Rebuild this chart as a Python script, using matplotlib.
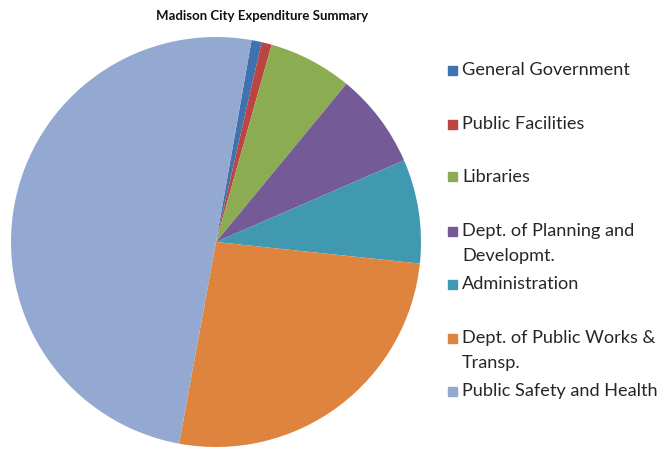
import matplotlib.pyplot as plt
from matplotlib.patches import Rectangle

departments = ['General Government', 'Public Facilities', 'Libraries',
               'Dept. of Planning and\nDevelopmt.', 'Administration',
               'Dept. of Public Works &\nTransp.', 'Public Safety and Health']
shares = [0.8, 0.8, 6.6, 7.5, 8.2, 26.2, 49.9]
colors = ['#3F72AF', '#BB4542', '#8CAC52', '#745A96', '#4199B1', '#DE843E', '#93A9D1']

W, H = 658, 449
fig = plt.figure(figsize=(W / 100, H / 100), dpi=100)

# pie centred at (216, 242) px, radius 205 px
cx, cy, r = 216, 242, 205
ax = fig.add_axes([(cx - r) / W, (H - cy - r) / H, 2 * r / W, 2 * r / H])
ax.pie(shares, colors=colors, startangle=80, counterclock=False,
       wedgeprops=dict(linewidth=0))
ax.set_xlim(-1, 1)
ax.set_ylim(-1, 1)
ax.axis('off')

fig.text(262 / W, 1 - 16 / H, 'Madison City Expenditure Summary',
         ha='center', va='center', fontsize=9.5, fontweight='bold',
         family='Lato', color='#111111')

# legend entries, marker aligned with the first line of each label
legend_y = [70, 124, 177, 231, 284, 338, 391]
line_gap = 25
for lab, col, y in zip(departments, colors, legend_y):
    fig.patches.append(Rectangle((448 / W, 1 - (y + 4.5) / H), 9 / W, 9 / H,
                                 transform=fig.transFigure, color=col))
    for i, part in enumerate(lab.split('\n')):
        fig.text(462 / W, 1 - (y + i * line_gap) / H, part, ha='left',
                 va='center', fontsize=13.1, family='Lato', color='#262626')

fig.savefig('out.png', dpi=100)
